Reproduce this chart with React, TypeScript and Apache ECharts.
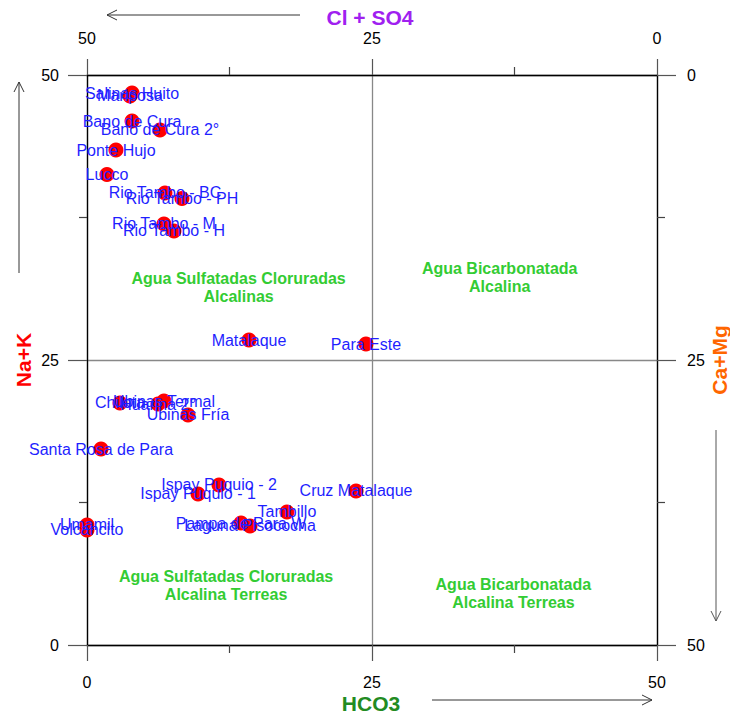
import { useEffect, useRef } from "react";
import * as echarts from "echarts";

// Sample sites (HCO3 on x, Na+K on y, both in %)
const siteNames = [
  "Salinas Huito", "Mariposa", "Bano de Cura", "Bano de Cura 2°", "Ponte Hujo",
  "Lucco", "Rio Tambo - BC", "Rio Tambo - PH", "Rio Tambo - M", "Rio Tambo - H",
  "Matalaque", "Para Este", "Chilota", "Ubinas Termal", "Huarina 2°",
  "Ubinas Fría", "Santa Rosa de Para", "Ispay Puquio - 2", "Ispay Puquio - 1",
  "Cruz Matalaque", "Tambillo", "Pampa de Para W", "Laguna Pisococha",
  "Umamil", "Volcancito",
];
const hco3 = [
  3.95, 3.77, 3.95, 6.4, 2.54,
  1.75, 6.84, 8.33, 6.75, 7.63,
  14.21, 24.47, 2.89, 6.75, 6.23,
  8.86, 1.23, 11.58, 9.74,
  23.6, 17.54, 13.51, 14.3,
  0.0, 0.0,
];
const naK = [
  48.42, 48.16, 45.96, 45.18, 43.42,
  41.27, 39.65, 39.17, 36.93, 36.32,
  26.75, 26.4, 21.23, 21.4, 21.14,
  20.18, 17.19, 14.04, 13.25,
  13.51, 11.67, 10.7, 10.44,
  10.53, 10.09,
];

// Zone annotations
const zoneLabels = [
  "Agua Sulfatadas Cloruradas\nAlcalinas",
  "Agua Bicarbonatada\nAlcalina",
  "Agua Sulfatadas Cloruradas\nAlcalina Terreas",
  "Agua Bicarbonatada\nAlcalina Terreas",
];
const zoneX = [13.3, 36.2, 12.2, 37.4];
const zoneY = [31.4, 32.2, 5.2, 4.5];

// Axis settings
const axisMin = 0;
const axisMax = 50;
const axisStep = 25;

const FONT = "'Liberation Sans', Arial, Helvetica, sans-serif";

function axisCommon(tickLen: number, margin: number) {
  return {
    type: "value" as const,
    min: axisMin,
    max: axisMax,
    interval: axisStep,
    axisLine: { show: true, onZero: false, lineStyle: { color: "#000", width: 1.3 } },
    axisTick: { show: true, length: tickLen, lineStyle: { color: "#555", width: 1.2 } },
    minorTick: { show: true, splitNumber: 2, length: 8, lineStyle: { color: "#444", width: 1.2 } },
    axisLabel: { margin, fontSize: 16, color: "#000", fontFamily: FONT },
  };
}

export default function App() {
  const ref = useRef<HTMLDivElement>(null);
  useEffect(() => {
    if (!ref.current) return;
    const chart = echarts.init(ref.current, null, { renderer: "svg" });
    const points = hco3.map((x, i) => [x, naK[i], siteNames[i]]);
    const zones = zoneX.map((x, i) => [x, zoneY[i], zoneLabels[i]]);
    const arrowColor = "#333";
    chart.setOption({
      animation: false,
      backgroundColor: "#fff",
      grid: { left: 87, top: 75, width: 570, height: 570 },
      xAxis: [
        {
          ...axisCommon(16, 29),
          position: "bottom",
          splitLine: { show: true, lineStyle: { color: "#888", width: 1.3 } },
        },
        {
          ...axisCommon(16, 29),
          position: "top",
          inverse: true,
          splitLine: { show: false },
        },
      ],
      yAxis: [
        {
          ...axisCommon(19, 28),
          position: "left",
          splitLine: { show: true, lineStyle: { color: "#888", width: 1.3 } },
        },
        {
          ...axisCommon(19, 30),
          position: "right",
          inverse: true,
          splitLine: { show: false },
        },
      ],
      series: [
        {
          type: "scatter",
          xAxisIndex: 0,
          yAxisIndex: 0,
          data: points,
          symbol: "circle",
          symbolSize: 15,
          itemStyle: { color: "#FF0000", opacity: 1 },
          z: 2,
          silent: true,
        },
        {
          type: "scatter",
          xAxisIndex: 0,
          yAxisIndex: 0,
          data: points,
          symbolSize: 0,
          itemStyle: { opacity: 1 },
          z: 3,
          silent: true,
          label: {
            show: true,
            position: "inside",
            formatter: (p: any) => p.data[2],
            color: "#1f1fff",
            opacity: 1,
            fontSize: 16,
            fontFamily: FONT,
          },
        },
        {
          type: "scatter",
          xAxisIndex: 0,
          yAxisIndex: 0,
          data: zones,
          symbolSize: 0,
          itemStyle: { opacity: 1 },
          z: 3,
          silent: true,
          label: {
            show: true,
            position: "inside",
            formatter: (p: any) => p.data[2],
            color: "#33CC33",
            opacity: 1,
            fontSize: 16,
            fontWeight: "bold",
            lineHeight: 18,
            align: "center",
            fontFamily: FONT,
          },
        },
      ],
      graphic: [
        {
          type: "text", x: 370, y: 17,
          style: { text: "Cl + SO4", fill: "#A020F0", font: `bold 21px ${FONT}`, align: "center", verticalAlign: "middle" },
        },
        {
          type: "text", x: 371, y: 703,
          style: { text: "HCO3", fill: "#228B22", font: `bold 21px ${FONT}`, align: "center", verticalAlign: "middle" },
        },
        {
          type: "text", x: 23, y: 360, rotation: Math.PI / 2,
          style: { text: "Na+K", fill: "#FF0000", font: `bold 21px ${FONT}`, align: "center", verticalAlign: "middle" },
        },
        {
          type: "text", x: 719, y: 360, rotation: Math.PI / 2,
          style: { text: "Ca+Mg", fill: "#FF6600", font: `bold 21px ${FONT}`, align: "center", verticalAlign: "middle" },
        },
        // top arrow (pointing left)
        { type: "line", shape: { x1: 300, y1: 15, x2: 107, y2: 15 }, style: { stroke: arrowColor, lineWidth: 1 } },
        { type: "polyline", shape: { points: [[117, 10], [107, 15], [117, 20]] }, style: { stroke: arrowColor, fill: null, lineWidth: 1 } },
        // bottom arrow (pointing right)
        { type: "line", shape: { x1: 432, y1: 700, x2: 652, y2: 700 }, style: { stroke: arrowColor, lineWidth: 1 } },
        { type: "polyline", shape: { points: [[642, 695], [652, 700], [642, 705]] }, style: { stroke: arrowColor, fill: null, lineWidth: 1 } },
        // left arrow (pointing up)
        { type: "line", shape: { x1: 19, y1: 273, x2: 19, y2: 82 }, style: { stroke: arrowColor, lineWidth: 1 } },
        { type: "polyline", shape: { points: [[14, 92], [19, 82], [24, 92]] }, style: { stroke: arrowColor, fill: null, lineWidth: 1 } },
        // right arrow (pointing down)
        { type: "line", shape: { x1: 716, y1: 430, x2: 716, y2: 621 }, style: { stroke: "#555", lineWidth: 1 } },
        { type: "polyline", shape: { points: [[711, 611], [716, 621], [721, 611]] }, style: { stroke: "#555", fill: null, lineWidth: 1 } },
      ],
    });
    return () => chart.dispose();
  }, []);
  return (
    <div
      ref={ref}
      style={{ position: "absolute", left: 0, top: 0, width: 730, height: 715, background: "#fff" }}
    />
  );
}
